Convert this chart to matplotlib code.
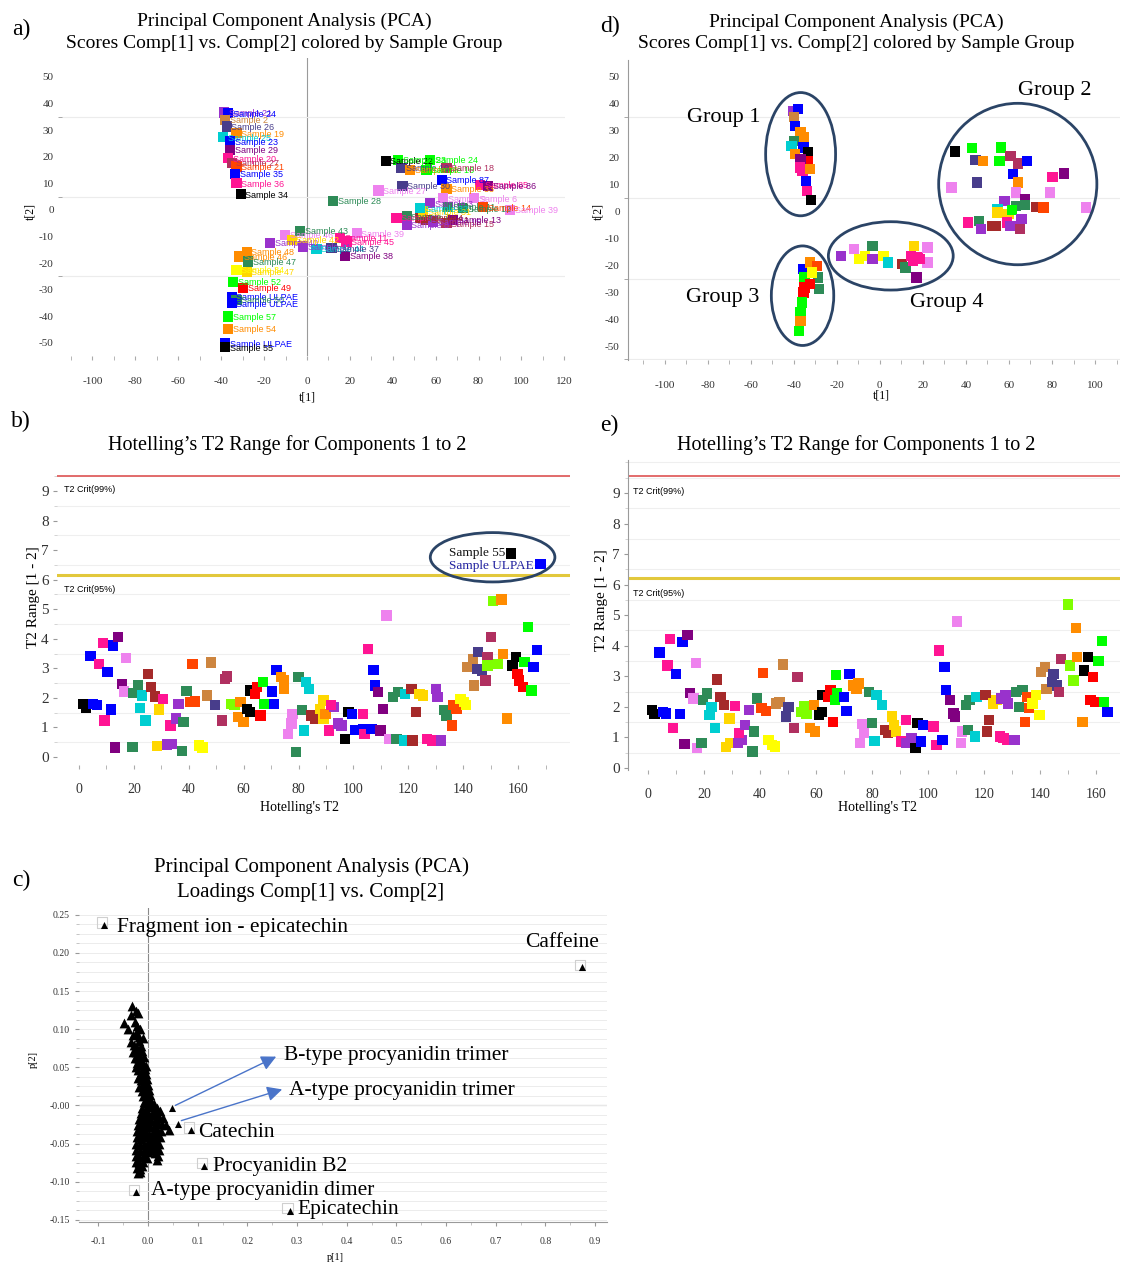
import matplotlib
matplotlib.use("Agg")
import matplotlib.pyplot as plt
from matplotlib.patches import Ellipse
from matplotlib.ticker import MultipleLocator, FixedLocator

plt.rcParams['axes.unicode_minus'] = False

W, H = 1123, 1264
SERIF = "Liberation Serif"
SANS = "Liberation Sans"

COL = {
    'bl': '#0000ff', 'pk': '#ff1493', 'pu': '#800080', 'vi': '#9932cc',
    'pl': '#ee82ee', 'cy': '#00ced1', 'gr': '#00ff00', 'sg': '#2e8b57',
    'or': '#ff8c00', 'orr': '#ff4500', 'ye': '#ffff00', 'go': '#ffd700',
    'bk': '#000000', 'rd': '#ff0000', 'br': '#a52a2a', 'sl': '#483d8b',
    'pe': '#cd853f', 'ch': '#7fff00', 'ma': '#b03060',
}

# ------------------------------------------------------------------
# a) PCA scores with sample labels
# ------------------------------------------------------------------
a_x = [-38.7, -36.7, -38.2, -37.4, -32.8, -39.0, -35.9, -35.9, -36.7, -35.1, -32.8, -33.6, -32.8, -30.9,
       36.7, 42.6, 44.1, 48.0, 57.3, 55.8, 65.1, 62.8, 44.6, 33.3, 65.1, 80.7, 84.5, 63.5, 77.9, 57.3,
       65.9, 72.9, 82.2, 94.6, 41.8, 46.5, 46.5, 52.7, 55.8, 54.2, 52.7, 58.9, 65.1, 68.2,
       -17.2, -10.3, -7.1, -3.3, -1.7, 4.5, 23.2, 18.5, 11.5, 15.4, 17.7, 12.1,
       -28.1, -31.6, -27.4, -32.8, -28.1, -34.4, -29.7, -35.1, -32.8, -35.1, -36.7, -36.7, -38.2, -38.2]
a_y = [36.6, 36.3, 33.8, 31.3, 28.8, 27.3, 25.7, 22.6, 19.4, 17.6, 16.3, 13.5, 10.0, 5.9,
       18.4, 18.8, 15.7, 15.0, 18.8, 15.0, 15.7, 11.3, 9.0, 7.3, 7.8, 9.4, 9.0, 4.4, 4.4, 2.5,
       1.2, 0.6, 1.0, 0.0, -3.1, -2.5, -5.6, -3.1, -3.8, -0.6, 0.6, -4.4, -5.0, -3.8,
       -12.3, -9.4, -11.3, -7.9, -13.8, -14.7, -8.8, -11.9, -14.4, -10.6, -17.3, 3.4,
       -15.7, -17.5, -19.4, -22.6, -23.2, -27.0, -29.4, -32.6, -33.8, -35.1, -40.1, -44.8, -50.1, -51.6]
a_c = ['vi', 'bl', 'pe', 'sl', 'or', 'cy', 'bl', 'pu', 'pk', 'ma', 'orr', 'bl', 'pk', 'bk',
       'bk', 'gr', 'sl', 'or', 'gr', 'gr', 'ma', 'bl', 'sl', 'pl', 'or', 'pk', 'pu', 'pl', 'pl', 'vi',
       'sg', 'sg', 'orr', 'pl', 'pk', 'sg', 'vi', 'br', 'br', 'go', 'cy', 'vi', 'ma', 'pu',
       'vi', 'pl', 'go', 'sg', 'vi', 'cy', 'pl', 'pk', 'sl', 'pk', 'pu', 'sg',
       'or', 'or', 'sg', 'ye', 'go', 'gr', 'rd', 'bl', 'sg', 'bl', 'gr', 'or', 'bl', 'bk']
a_lab = ['Sample 21', 'Sample 24', 'Sample 2', 'Sample 26', 'Sample 19', 'Sample 25', 'Sample 23',
         'Sample 29', 'Sample 20', 'Sample 27', 'Sample 21', 'Sample 35', 'Sample 36', 'Sample 34',
         'Sample 22', 'Sample 23', 'Sample 10', 'Sample 26', 'Sample 24', 'Sample 16', 'Sample 18',
         'Sample 87', 'Sample 30', 'Sample 27', 'Sample 33', 'Sample 85', 'Sample 86', 'Sample 9',
         'Sample 6', 'Sample 3', 'Sample 11', 'Sample 12', 'Sample 14', 'Sample 39', 'Sample 5',
         'Sample 7', 'Sample 8', 'Sample 4', 'Sample 1', 'Sample 31', 'Sample 32', 'Sample 15',
         'Sample 15', 'Sample 13',
         'Sample 40', 'Sample 46', 'Sample 42', 'Sample 43', 'Sample 41', 'Sample 44', 'Sample 39',
         'Sample 45', 'Sample 37', 'Sample 11', 'Sample 38', 'Sample 28',
         'Sample 48', 'Sample 46', 'Sample 47', 'Sample 34', 'Sample 47', 'Sample 52', 'Sample 49',
         'Sample ULPAE', 'Sample 50', 'Sample ULPAE', 'Sample 57', 'Sample 54', 'Sample ULPAE',
         'Sample 55']

# ------------------------------------------------------------------
# d) PCA scores, grouped
# ------------------------------------------------------------------
d_x = [-40.2, -38.1, -39.8, -39.3, -36.8, -35.4, -39.8, -41.0, -35.4, -33.3, -39.3, -33.3, -36.8,
       -37.1, -35.9, -32.5, -34.2, -33.7, -32.0,
       -35.4, -32.5, -29.1, -28.6, -28.2, -35.0, -31.6, -32.5, -35.0, -35.4, -36.2, -36.8, -36.8, -37.6,
       -17.9, -12.0, -9.7, -6.8, -3.4, -3.4, 1.7, 3.9, 10.3, 12.0, 14.5, 15.4, 17.9, 15.9, 22.2, 22.2,
       17.1, 18.8,
       35.0, 42.7, 44.4, 47.9, 56.4, 55.6, 60.7, 64.1, 68.4, 62.0, 45.3, 33.3, 64.1, 63.2, 80.3, 85.5,
       79.1, 57.9, 67.5, 63.2, 67.5, 72.6, 76.1, 95.7, 54.7, 54.7, 59.8, 61.5, 41.0, 46.2, 47.0, 52.1,
       53.8, 59.0, 60.7, 65.8, 65.0]
d_y = [37.4, 38.0, 35.0, 31.8, 29.4, 27.8, 26.3, 24.4, 23.8, 21.9, 21.3, 18.8, 19.5,
       16.4, 15.1, 15.7, 11.4, 7.7, 4.2,
       -21.4, -19.0, -20.2, -24.5, -28.9, -24.5, -22.7, -27.0, -28.3, -30.1, -33.8, -37.5, -40.6, -44.4,
       -16.5, -14.0, -17.7, -16.5, -12.8, -17.7, -16.5, -19.0, -19.6, -20.8, -16.5, -18.3, -17.1, -12.8,
       -13.4, -19.0, -24.5, -17.7,
       22.3, 23.5, 19.2, 18.8, 23.8, 18.8, 20.7, 17.8, 18.8, 13.9, 10.8, 8.9, 10.8, 7.1, 12.9, 14.1,
       7.1, 4.0, 4.6, 2.1, 2.5, 1.7, 1.5, 1.5, 0.9, -0.4, -1.0, 0.5, -4.1, -3.5, -6.6, -5.3,
       -5.3, -4.1, -5.3, -2.8, -6.6]
d_c = ['vi', 'bl', 'pe', 'bl', 'or', 'or', 'sg', 'cy', 'bl', 'bk', 'or', 'rd', 'pu',
       'pk', 'pk', 'or', 'bl', 'pk', 'bk',
       'bl', 'or', 'orr', 'sg', 'sg', 'gr', 'ye', 'rd', 'rd', 'rd', 'gr', 'gr', 'or', 'gr',
       'vi', 'pl', 'ye', 'ye', 'sg', 'vi', 'ye', 'cy', 'br', 'sg', 'pk', 'pk', 'pk', 'go', 'pl', 'pl',
       'pu', 'pk',
       'bk', 'gr', 'sl', 'or', 'gr', 'gr', 'ma', 'ma', 'bl', 'bl', 'sl', 'pl', 'or', 'pl', 'pk', 'pu',
       'pl', 'vi', 'pu', 'sg', 'sg', 'br', 'orr', 'pl', 'cy', 'go', 'go', 'gr', 'pk', 'sg', 'vi', 'br',
       'br', 'pk', 'vi', 'vi', 'ma']
d_groups = ['Group 1', 'Group 2', 'Group 3', 'Group 4']
d_group_xy = [(-72.6, 34.8), (81.4, 45.0), (-73.0, -31.8), (31.2, -34.0)]
d_ell = [(-36.8, 21.3, 32.5, 45.8), (64.1, 10.2, 73.5, 60.0), (-35.9, -31.3, 29.0, 37.0),
         (5.1, -16.5, 58.0, 25.4)]

# ------------------------------------------------------------------
# b) Hotelling's T2, outliers labelled
# ------------------------------------------------------------------
b_x = [1.5, 2.5, 4.2, 5.2, 6.7, 7.4, 8.7, 10.4, 9.3, 11.7, 12.3, 14.1, 13.2, 15.6, 17.1, 16.5, 19.5,
       19.7, 21.4, 23.0, 22.3, 24.2, 25.2, 26.2, 27.8, 30.7, 29.2, 28.4, 32.0, 34.0, 33.3, 35.3, 36.3,
       37.6, 38.1, 39.2, 40.5, 42.4, 41.4, 43.7, 45.0, 46.6, 48.2, 49.5, 52.1, 53.2, 54.0, 55.4, 56.7,
       58.0, 60.0, 58.9, 61.2, 62.3, 62.5, 64.1, 64.9, 66.1, 67.0, 67.4, 70.3, 71.0, 72.0, 73.5, 74.8,
       74.8, 76.1, 77.4, 77.8, 79.1, 80.0, 81.3, 82.0, 82.6, 83.9, 84.6, 85.9, 87.8, 89.1, 89.1, 89.8,
       91.0, 93.0, 94.3, 95.6, 91.7, 96.9, 98.2, 99.5, 100.8, 103.4, 103.4, 104.0, 105.3, 106.6, 107.3,
       107.9, 108.9, 110.8, 109.9, 112.1, 113.0, 114.4, 116.3, 115.7, 118.3, 118.9, 121.5, 121.1, 122.8,
       124.1, 125.4, 126.7, 128.7, 130.0, 130.6, 131.9, 133.2, 133.9, 136.4, 137.5, 135.8, 139.0, 140.3,
       141.0, 141.6, 143.6, 144.0, 145.5, 144.9, 146.8, 148.1, 148.8, 150.1, 150.9, 153.9, 148.8, 152.6,
       154.6, 155.9, 157.9, 159.1, 159.8, 160.4, 161.7, 163.6, 162.3, 164.9, 166.9, 165.6]
b_y = [1.80, 1.65, 3.43, 1.80, 1.75, 3.15, 3.86, 2.87, 1.24, 1.61, 3.77, 4.05, 0.32, 2.48, 3.34, 2.22,
       0.34, 2.16, 2.42, 2.08, 1.66, 1.24, 2.82, 2.36, 2.05, 1.97, 1.61, 0.37, 0.42, 0.45, 1.07, 1.30,
       1.80, 0.20, 1.18, 2.23, 1.86, 1.88, 3.15, 0.39, 0.32, 2.08, 3.20, 1.75, 1.24, 2.65, 2.72, 1.80,
       1.75, 1.35, 1.18, 1.86, 1.63, 1.52, 2.25, 2.14, 2.36, 1.41, 2.53, 1.80, 2.22, 1.80, 2.95, 2.70,
       2.59, 2.31, 0.79, 1.13, 1.46, 0.17, 2.70, 1.58, 0.90, 2.53, 2.31, 1.41, 1.30, 1.63, 1.91, 1.30,
       1.46, 0.90, 1.69, 1.13, 1.07, 1.75, 0.62, 1.52, 1.46, 0.92, 0.96, 1.46, 0.79, 3.66, 0.96, 2.95,
       2.42, 2.20, 1.63, 0.90, 4.79, 0.62, 2.03, 2.20, 0.62, 0.56, 2.14, 0.56, 2.31, 1.52, 2.14, 2.08,
       0.62, 0.56, 2.31, 2.03, 0.56, 1.58, 1.41, 1.75, 1.63, 1.07, 1.97, 1.86, 1.75, 3.04, 3.32, 2.42,
       3.55, 2.98, 2.93, 2.59, 3.38, 4.05, 5.29, 5.33, 3.10, 3.15, 3.49, 1.30, 3.10, 3.38, 2.82, 2.59,
       2.36, 4.39, 3.21, 2.25, 3.61, 3.04]
b_c = ['bk', 'bk', 'bl', 'bl', 'bl', 'pk', 'pk', 'bl', 'pk', 'bl', 'bl', 'pu', 'pu', 'pu', 'pl', 'pl',
       'sg', 'sg', 'sg', 'cy', 'cy', 'cy', 'br', 'br', 'br', 'pk', 'go', 'go', 'vi', 'vi', 'pk', 'vi',
       'vi', 'sg', 'sg', 'sg', 'orr', 'orr', 'orr', 'ye', 'ye', 'pe', 'pe', 'sl', 'ma', 'ma', 'ma', 'ch',
       'ch', 'or', 'or', 'or', 'bk', 'bk', 'bk', 'rd', 'rd', 'rd', 'gr', 'gr', 'bl', 'bl', 'bl', 'or',
       'or', 'or', 'pl', 'pl', 'pl', 'sg', 'sg', 'sg', 'cy', 'cy', 'cy', 'br', 'br', 'go', 'go', 'go',
       'or', 'pk', 'vi', 'vi', 'vi', 'pk', 'bk', 'bk', 'bl', 'bl', 'bl', 'pk', 'pk', 'pk', 'bl', 'bl',
       'bl', 'pu', 'pu', 'pu', 'pl', 'pl', 'sg', 'sg', 'sg', 'cy', 'cy', 'br', 'br', 'br', 'go', 'go',
       'pk', 'pk', 'vi', 'vi', 'vi', 'sg', 'sg', 'orr', 'orr', 'orr', 'ye', 'ye', 'ye', 'pe', 'pe', 'pe',
       'sl', 'sl', 'sl', 'ma', 'ma', 'ma', 'ch', 'or', 'ch', 'ch', 'or', 'or', 'bk', 'bk', 'rd', 'rd',
       'rd', 'gr', 'gr', 'gr', 'bl', 'bl']
b_out_x = [157.3, 168.2]
b_out_y = [6.89, 6.53]
b_out_c = ['bk', 'bl']
b_out_lab = ['Sample 55', 'Sample ULPAE']
T2_CRIT_99 = 9.52
T2_CRIT_95 = 6.17

# ------------------------------------------------------------------
# e) Hotelling's T2 after removing outliers
# ------------------------------------------------------------------
e_x = [1.5, 2.4, 4.1, 5.4, 6.4, 7.0, 7.9, 10.1, 9.0, 11.4, 12.4, 14.1, 13.1, 15.0, 17.3, 16.3, 17.5,
       19.2, 19.8, 21.1, 22.7, 22.0, 23.9, 24.8, 25.9, 27.1, 31.2, 29.1, 28.0, 29.4, 32.3, 33.5, 32.5,
       34.8, 36.1, 37.4, 38.0, 39.0, 40.6, 42.1, 41.2, 43.1, 44.4, 45.3, 45.7, 47.0, 48.3, 50.2, 49.3,
       52.1, 53.4, 54.9, 56.6, 55.7, 57.9, 59.8, 59.2, 61.1, 62.1, 62.4, 64.3, 65.2, 66.2, 67.2, 67.5,
       66.8, 70.0, 70.9, 72.0, 73.2, 74.5, 75.2, 75.8, 77.1, 76.4, 79.0, 80.0, 80.9, 81.6, 83.5, 84.8,
       85.7, 87.3, 88.0, 88.6, 90.3, 92.1, 92.4, 94.1, 95.6, 96.3, 98.2, 97.6, 102.0, 103.1, 105.2,
       103.9, 105.9, 106.5, 107.8, 109.1, 109.7, 110.4, 111.7, 112.3, 113.6, 114.9, 114.2, 116.8, 117.4,
       120.6, 121.0, 121.9, 123.2, 124.5, 125.7, 127.0, 128.3, 126.1, 127.7, 128.7, 130.9, 131.5, 133.8,
       132.5, 134.7, 135.4, 136.0, 137.3, 138.5, 139.8, 140.5, 141.7, 142.4, 144.9, 144.3, 146.2, 147.5,
       146.9, 150.0, 153.0, 150.7, 152.0, 153.3, 155.2, 157.1, 155.8, 159.0, 158.1, 159.7, 162.2, 160.9,
       162.9, 164.1]
e_y = [1.89, 1.76, 3.78, 1.84, 1.78, 3.35, 4.22, 3.08, 1.30, 1.76, 4.13, 4.35, 0.79, 2.45, 3.43, 2.27,
       0.65, 0.81, 2.22, 2.43, 2.00, 1.73, 1.30, 2.89, 2.32, 2.05, 2.02, 1.62, 0.68, 0.81, 0.81, 0.92,
       1.14, 1.41, 1.89, 0.54, 1.19, 2.27, 1.95, 1.86, 3.11, 0.92, 0.76, 0.70, 2.11, 2.16, 3.38, 2.00,
       1.68, 1.30, 2.97, 1.84, 1.78, 2.02, 1.30, 1.19, 2.05, 1.73, 1.84, 2.38, 2.32, 2.54, 1.51, 3.03,
       2.43, 2.22, 2.32, 1.87, 3.08, 2.70, 2.59, 2.76, 0.81, 1.14, 1.44, 2.49, 1.48, 0.89, 2.38, 2.05,
       1.24, 1.14, 1.68, 1.41, 1.19, 0.86, 1.57, 0.81, 0.97, 0.65, 1.46, 1.41, 0.86, 1.35, 0.76, 0.92,
       3.84, 3.30, 2.54, 2.22, 1.78, 1.68, 4.79, 0.81, 1.19, 2.05, 2.22, 1.24, 1.03, 2.32, 2.38, 1.19,
       1.57, 2.11, 2.22, 1.03, 0.97, 0.92, 2.27, 2.38, 2.11, 0.92, 2.49, 2.54, 2.00, 1.51, 2.32, 1.95,
       2.11, 2.38, 1.73, 3.14, 3.30, 2.59, 3.08, 2.81, 2.70, 3.57, 2.49, 5.35, 4.59, 3.35, 2.86, 3.62,
       1.51, 3.64, 3.19, 2.97, 2.22, 2.16, 4.16, 3.49, 2.16, 1.84]
e_c = ['bk', 'bk', 'bl', 'bl', 'bl', 'pk', 'pk', 'bl', 'pk', 'bl', 'bl', 'pu', 'pu', 'pu', 'pl', 'pl',
       'pl', 'sg', 'sg', 'sg', 'cy', 'cy', 'cy', 'br', 'br', 'br', 'pk', 'go', 'go', 'go', 'vi', 'vi',
       'pk', 'vi', 'vi', 'sg', 'sg', 'sg', 'orr', 'orr', 'orr', 'ye', 'ye', 'ye', 'pe', 'pe', 'pe', 'sl',
       'sl', 'ma', 'ma', 'ch', 'ch', 'ch', 'or', 'or', 'or', 'bk', 'bk', 'bk', 'rd', 'rd', 'rd', 'gr',
       'gr', 'gr', 'bl', 'bl', 'bl', 'or', 'or', 'or', 'pl', 'pl', 'pl', 'sg', 'sg', 'cy', 'cy', 'cy',
       'br', 'br', 'go', 'go', 'go', 'pk', 'pk', 'vi', 'vi', 'bk', 'bk', 'bl', 'bl', 'pk', 'pk', 'bl',
       'pk', 'bl', 'bl', 'pu', 'pu', 'pu', 'pl', 'pl', 'pl', 'sg', 'sg', 'sg', 'cy', 'cy', 'br', 'br',
       'br', 'go', 'go', 'pk', 'pk', 'pk', 'vi', 'vi', 'vi', 'vi', 'sg', 'sg', 'sg', 'orr', 'orr', 'orr',
       'ye', 'ye', 'ye', 'pe', 'pe', 'pe', 'sl', 'sl', 'sl', 'ma', 'ma', 'ch', 'or', 'ch', 'ch', 'or',
       'or', 'bk', 'bk', 'rd', 'rd', 'rd', 'gr', 'gr', 'gr', 'bl']
E_CRIT_99 = 9.56
E_CRIT_95 = 6.22

# ------------------------------------------------------------------
# c) PCA loadings
# ------------------------------------------------------------------
c_x = [-0.032, -0.025, -0.020, -0.048, -0.035, -0.022, -0.016, -0.030, -0.024, -0.010, -0.034, -0.028,
       -0.018, -0.022, -0.014, -0.040, -0.027, -0.031, -0.019,
       -0.024, -0.018, -0.012, -0.020, -0.014, -0.008, -0.022, -0.016, -0.010, -0.004, -0.020, -0.013,
       -0.007, -0.017, -0.010, -0.004, -0.015, -0.009, -0.002, -0.013, -0.007, 0.000, -0.012, -0.005,
       0.002, -0.010, -0.003, 0.004, -0.009, -0.002, 0.006, 0.012, -0.027, -0.025, -0.021, -0.018,
       -0.012, -0.004, 0.004, 0.011, 0.018, 0.025, -0.015, -0.008, 0.000, 0.008, 0.016, 0.023, 0.031,
       -0.018, -0.010, -0.002, 0.006, 0.014, 0.021, 0.028, 0.036, -0.020, -0.012, -0.004, 0.004, 0.012,
       0.019, 0.026, 0.043, -0.022, -0.014, -0.006, 0.002, 0.010, 0.017, 0.024, -0.023, -0.015, -0.007,
       0.001, 0.009, 0.016, 0.023, -0.024, -0.016, -0.008, 0.000, 0.008, 0.015, 0.022, -0.024, -0.017,
       -0.009, -0.001, 0.007, 0.014, 0.020, -0.025, -0.018, -0.010, -0.003, 0.018, -0.025, -0.018,
       -0.011, -0.023, -0.017, -0.012, -0.021, -0.016]
c_y = [0.130, 0.124, 0.121, 0.108, 0.118, 0.104, 0.100, 0.092, 0.095, 0.088, 0.083, 0.079, 0.085,
       0.075, 0.078, 0.100, 0.110, 0.070, 0.090,
       0.070, 0.068, 0.071, 0.062, 0.060, 0.063, 0.055, 0.053, 0.056, 0.052, 0.047, 0.045, 0.048, 0.040,
       0.038, 0.041, 0.033, 0.031, 0.034, 0.026, 0.024, 0.027, 0.019, 0.017, 0.020, 0.012, 0.010, 0.013,
       0.005, 0.003, 0.006, 0.002, 0.062, 0.050, 0.036, 0.024,
       -0.003, -0.005, -0.002, -0.006, -0.004, -0.008, -0.010, -0.012, -0.010, -0.013, -0.011, -0.015,
       -0.017, -0.018, -0.020, -0.018, -0.021, -0.019, -0.023, -0.025, -0.026, -0.026, -0.028, -0.026,
       -0.029, -0.027, -0.031, -0.033, -0.032, -0.034, -0.036, -0.034, -0.037, -0.035, -0.039, -0.041,
       -0.042, -0.044, -0.042, -0.045, -0.043, -0.047, -0.050, -0.050, -0.052, -0.050, -0.053, -0.051,
       -0.055, -0.058, -0.058, -0.060, -0.058, -0.061, -0.059, -0.063, -0.066, -0.066, -0.068, -0.066,
       -0.069, -0.072, -0.074, -0.076, -0.074, -0.082, -0.084, -0.080, -0.089, -0.088]
c_named = ['Fragment ion - epicatechin', 'Caffeine', 'Catechin', 'Procyanidin B2',
           'A-type procyanidin dimer', 'Epicatechin']
c_named_xy = [(-0.089, 0.237), (0.873, 0.181), (0.086, -0.032), (0.112, -0.079),
              (-0.024, -0.114), (0.285, -0.138)]
c_named_text = [(-0.063, 0.234, 'left'), (0.907, 0.214, 'right'), (0.100, -0.036, 'left'),
                (0.131, -0.080, 'left'), (0.006, -0.112, 'left'), (0.300, -0.136, 'left')]
c_arrow = ['B-type procyanidin trimer', 'A-type procyanidin trimer']
c_arrow_from = [(0.049, -0.004), (0.061, -0.024)]
c_arrow_to = [(0.258, 0.064), (0.270, 0.021)]
c_arrow_text = [(0.274, 0.066), (0.284, 0.019)]


def px_axes(fig, x0, y0, x1, y1):
    return fig.add_axes([x0 / W, 1 - y1 / H, (x1 - x0) / W, (y1 - y0) / H])


def clean(ax, keep_left=False, keep_bottom=False):
    for side in ['top', 'right', 'left', 'bottom']:
        ax.spines[side].set_visible(False)
    if keep_left:
        ax.spines['left'].set_visible(True)
        ax.spines['left'].set_color('#9a9a9a')
        ax.spines['left'].set_linewidth(0.8)
    if keep_bottom:
        ax.spines['bottom'].set_visible(True)
        ax.spines['bottom'].set_color('#9a9a9a')
        ax.spines['bottom'].set_linewidth(0.8)


def squares(ax, xs, ys, cs, s=50):
    ax.scatter(xs, ys, c=[COL[k] for k in cs], marker='s', s=s, linewidths=0, zorder=3)


def score_axes(ax, xlim, ylim):
    ax.set_xlim(*xlim)
    ax.set_ylim(*ylim)
    ax.xaxis.set_major_locator(MultipleLocator(20))
    ax.xaxis.set_minor_locator(MultipleLocator(10))
    ax.yaxis.set_major_locator(MultipleLocator(10))
    ax.yaxis.set_minor_locator(FixedLocator([50, 35, 20, 5, -10, -25, -40, -55]))
    ax.grid(which='minor', axis='y', color='#ececec', lw=0.8)
    ax.tick_params(axis='y', which='major', length=0, labelsize=8, pad=6, labelcolor='#333333')
    ax.tick_params(axis='y', which='minor', length=3, color='#999999')
    ax.tick_params(axis='x', which='both', length=3, color='#aaaaaa', labelsize=8, pad=12,
                   labelcolor='#333333')
    for lab in ax.get_xticklabels() + ax.get_yticklabels():
        lab.set_fontfamily(SERIF)


def t2_axes(ax, xlim, ylim):
    ax.set_xlim(*xlim)
    ax.set_ylim(*ylim)
    ax.xaxis.set_major_locator(MultipleLocator(20))
    ax.xaxis.set_minor_locator(MultipleLocator(10))
    ax.yaxis.set_major_locator(MultipleLocator(1))
    ax.yaxis.set_minor_locator(MultipleLocator(0.5))
    ax.grid(which='minor', axis='y', color='#efefef', lw=0.8)
    ax.set_yticks(range(0, 10))
    ax.tick_params(axis='y', which='major', length=3, color='#999999', labelsize=11, pad=3,
                   labelcolor='#333333')
    ax.tick_params(axis='y', which='minor', length=2, color='#cccccc')
    ax.tick_params(axis='x', which='both', length=3, color='#aaaaaa', labelsize=10, pad=10,
                   labelcolor='#333333')
    for lab in ax.get_xticklabels() + ax.get_yticklabels():
        lab.set_fontfamily(SERIF)


fig = plt.figure(figsize=(W / 100, H / 100), dpi=100)


def ftext(x, y, s, size, ha='center', **kw):
    fig.text(x / W, 1 - y / H, s, fontsize=size, ha=ha, va='center', family=SERIF, **kw)


# ---------------- panel a ----------------
ax_a = px_axes(fig, 62, 58, 565, 356)
clean(ax_a)
score_axes(ax_a, (-114.2, 120.3), (-54.9, 57.1))
ax_a.axvline(0, color='#9a9a9a', lw=0.8, zorder=1)
squares(ax_a, a_x, a_y, a_c, s=55)
for x, y, c, lab in zip(a_x, a_y, a_c, a_lab):
    ax_a.text(x + 2.2, y - 0.3, lab, color=COL[c], fontsize=6.5, family=SANS, va='center', zorder=4,
              clip_on=True)
ftext(307, 397, 't[1]', 8.5)
fig.text(30 / W, 1 - 211 / H, 't[2]', fontsize=8.5, rotation=90, ha='center', va='center', family=SERIF)
ftext(284, 21, 'Principal Component Analysis (PCA)', 14)
ftext(284, 44, 'Scores Comp[1] vs. Comp[2] colored by Sample Group', 14)
ftext(21, 29, 'a)', 17)

# ---------------- panel d ----------------
ax_d = px_axes(fig, 628, 60, 1120, 360)
clean(ax_d, keep_left=True)
score_axes(ax_d, (-117.0, 111.6), (-55.2, 56.3))
squares(ax_d, d_x, d_y, d_c, s=55)
for (cx, cy, w, h) in d_ell:
    ax_d.add_patch(Ellipse((cx, cy), w, h, fill=False, ec='#2b4466', lw=2, zorder=5))
for name, (gx, gy) in zip(d_groups, d_group_xy):
    ax_d.text(gx, gy, name, fontsize=16, family=SERIF, ha='center', va='center', zorder=6)
ftext(881, 395, 't[1]', 8.5)
fig.text(598 / W, 1 - 211 / H, 't[2]', fontsize=8.5, rotation=90, ha='center', va='center', family=SERIF)
ftext(856, 22, 'Principal Component Analysis (PCA)', 14)
ftext(856, 43, 'Scores Comp[1] vs. Comp[2] colored by Sample Group', 14)
ftext(610, 26, 'd)', 17)

# ---------------- panel b ----------------
ax_b = px_axes(fig, 57, 463, 570, 765)
clean(ax_b)
t2_axes(ax_b, (-8.0, 178.9), (-0.27, 9.95))
ax_b.axhline(T2_CRIT_99, color='#e06060', lw=1.3, zorder=2)
ax_b.axhline(T2_CRIT_95, color='#e2c83c', lw=2.2, zorder=2)
ax_b.text(-5.5, T2_CRIT_99 - 0.45, 'T2 Crit(99%)', fontsize=6.5, family=SANS, va='center')
ax_b.text(-5.5, T2_CRIT_95 - 0.5, 'T2 Crit(95%)', fontsize=6.5, family=SANS, va='center')
squares(ax_b, b_x, b_y, b_c, s=55)
squares(ax_b, b_out_x, b_out_y, b_out_c, s=55)
ax_b.text(b_out_x[0] - 2.0, b_out_y[0], b_out_lab[0], fontsize=9.5, family=SERIF, ha='right',
          va='center', color='#111111', zorder=4)
ax_b.text(b_out_x[1] - 2.5, b_out_y[1] - 0.08, b_out_lab[1], fontsize=9.5, family=SERIF, ha='right',
          va='center', color='#2020a0', zorder=4)
ax_b.add_patch(Ellipse((150.7, 6.76), 45.4, 1.67, fill=False, ec='#2b4466', lw=2, zorder=5))
ftext(300, 808, "Hotelling's T2", 10)
fig.text(34 / W, 1 - 597 / H, 'T2 Range [1 - 2]', fontsize=11, rotation=90, ha='center', va='center',
         family=SERIF)
ftext(287, 445, "Hotelling’s T2 Range for Components 1 to 2", 14.5)
ftext(21, 421, 'b)', 17)

# ---------------- panel e ----------------
ax_e = px_axes(fig, 628, 460, 1120, 770)
clean(ax_e, keep_left=True)
t2_axes(ax_e, (-7.1, 168.6), (-0.07, 10.08))
ax_e.axhline(E_CRIT_99, color='#e06060', lw=1.3, zorder=2)
ax_e.axhline(E_CRIT_95, color='#e2c83c', lw=2.2, zorder=2)
ax_e.text(-5.2, E_CRIT_99 - 0.5, 'T2 Crit(99%)', fontsize=6.5, family=SANS, va='center')
ax_e.text(-5.2, E_CRIT_95 - 0.5, 'T2 Crit(95%)', fontsize=6.5, family=SANS, va='center')
squares(ax_e, e_x, e_y, e_c, s=55)
ftext(878, 807, "Hotelling's T2", 10)
fig.text(601 / W, 1 - 600 / H, 'T2 Range [1 - 2]', fontsize=11, rotation=90, ha='center', va='center',
         family=SERIF)
ftext(856, 445, "Hotelling’s T2 Range for Components 1 to 2", 14.5)
ftext(609, 425, 'e)', 17)

# ---------------- panel c ----------------
ax_c = px_axes(fig, 79, 908, 607, 1222)
clean(ax_c, keep_bottom=True)
ax_c.set_xlim(-0.139, 0.924)
ax_c.set_ylim(-0.153, 0.259)
ax_c.set_xticks([-0.1, 0.0, 0.1, 0.2, 0.3, 0.4, 0.5, 0.6, 0.7, 0.8, 0.9])
ax_c.set_xticklabels(['-0.1', '0.0', '0.1', '0.2', '0.3', '0.4', '0.5', '0.6', '0.7', '0.8', '0.9'])
ax_c.xaxis.set_minor_locator(MultipleLocator(0.05))
ax_c.set_yticks([0.25, 0.20, 0.15, 0.10, 0.05, 0.0, -0.05, -0.10, -0.15])
ax_c.set_yticklabels(['0.25', '0.20', '0.15', '0.10', '0.05', '-0.00', '-0.05', '-0.10', '-0.15'])
ax_c.yaxis.set_minor_locator(MultipleLocator(0.0125))
ax_c.grid(which='both', axis='y', color='#ececec', lw=0.7)
ax_c.tick_params(axis='both', which='major', length=3, color='#999999', labelsize=7,
                 labelcolor='#333333')
ax_c.tick_params(axis='both', which='minor', length=2, color='#bbbbbb')
ax_c.tick_params(axis='x', pad=8)
for lab in ax_c.get_xticklabels() + ax_c.get_yticklabels():
    lab.set_fontfamily(SERIF)
ax_c.axvline(0, color='#8a8a8a', lw=0.8, zorder=1)
ax_c.axhline(0, color='#8a8a8a', lw=0.8, zorder=1)
ax_c.scatter(c_x, c_y, marker='^', s=50, c='black', linewidths=0, zorder=3)
for (px, py), (tx, ty, ha), name in zip(c_named_xy, c_named_text, c_named):
    ax_c.scatter([px - 0.004], [py + 0.003], marker='s', s=55, facecolors='none',
                 edgecolors='#cfcfcf', linewidths=0.8, zorder=2)
    ax_c.scatter([px], [py], marker='^', s=26, c='black', linewidths=0, zorder=3)
    ax_c.text(tx, ty, name, fontsize=15.5, family=SERIF, ha=ha, va='center', zorder=4)
for (fx, fy), (tx, ty), (lx, ly), name in zip(c_arrow_from, c_arrow_to, c_arrow_text, c_arrow):
    ax_c.scatter([fx], [fy], marker='^', s=26, c='black', linewidths=0, zorder=3)
    ax_c.annotate('', xy=(tx, ty), xytext=(fx + 0.006, fy + 0.004),
                  arrowprops=dict(arrowstyle='-|>,head_length=0.9,head_width=0.45',
                                  color='#4a74c9', lw=1.0, shrinkA=0, shrinkB=0), zorder=4)
    ax_c.text(lx, ly, name, fontsize=15.5, family=SERIF, ha='left', va='center', zorder=4)
ftext(335, 1257, 'p[1]', 7.5)
fig.text(33 / W, 1 - 1060 / H, 'p[2]', fontsize=7.5, rotation=90, ha='center', va='center',
         family=SERIF)
ftext(311, 867, 'Principal Component Analysis (PCA)', 15)
ftext(311, 893, 'Loadings Comp[1] vs. Comp[2]', 15)
ftext(21, 880, 'c)', 17)

fig.savefig('out.png', dpi=100)
